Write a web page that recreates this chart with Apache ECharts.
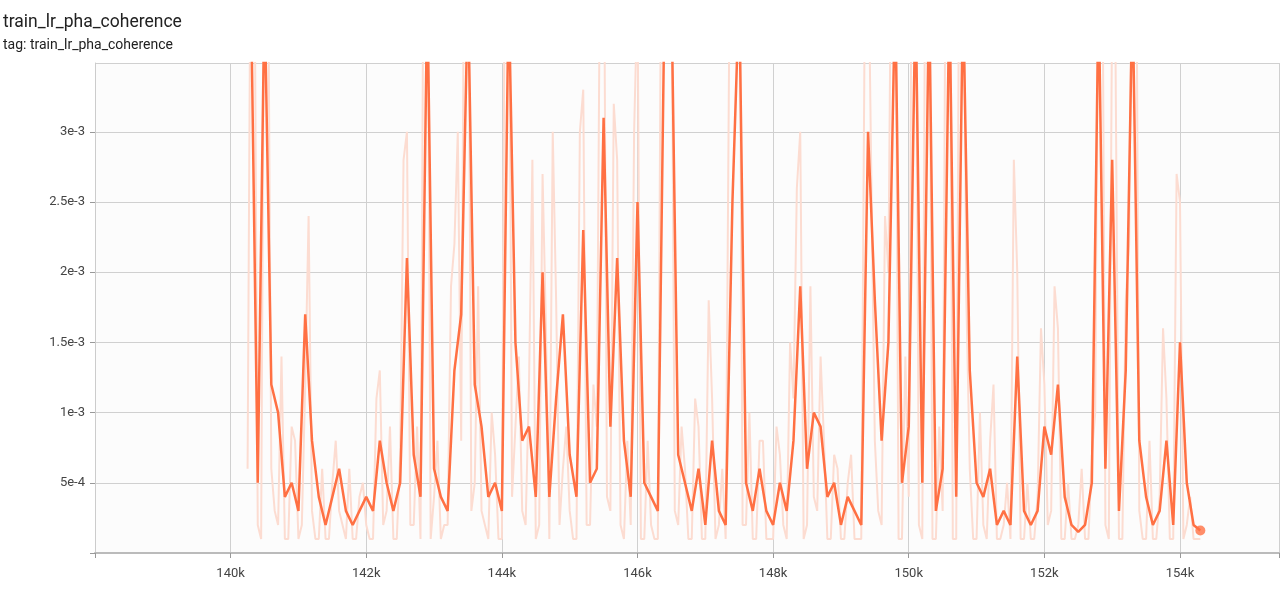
<!DOCTYPE html>
<html>
<head>
<meta charset="utf-8">
<script src="https://cdn.jsdelivr.net/npm/echarts@6/dist/echarts.min.js"></script>
<style>
  html, body { margin: 0; padding: 0; background: #fff; }
  #chart { width: 1282px; height: 592px; }
</style>
</head>
<body>
<div id="chart"></div>
<script>
// values in units of 1e-4, one point per 100 steps
const smoothStart = 140300;
const smoothed = [
  40, 5, 40, 12, 10, 4, 5, 3, 17, 8, 4, 2, 4, 6, 3, 2, 3, 4, 3, 8,
  5, 3, 5, 21, 7, 4, 40, 6, 4, 3, 13, 17, 40, 12, 9, 4, 5, 3, 40, 15,
  8, 9, 4, 20, 4, 11, 17, 7, 4, 23, 5, 6, 31, 9, 21, 8, 4, 25, 5, 4,
  3, 40, 40, 7, 5, 3, 6, 2, 8, 3, 2, 25, 40, 5, 3, 6, 3, 2, 5, 3,
  8, 19, 6, 10, 9, 4, 5, 2, 4, 3, 2, 30, 18, 8, 15, 40, 5, 9, 40, 5,
  40, 3, 6, 40, 4, 40, 13, 5, 4, 6, 2, 3, 2, 14, 3, 2, 3, 9, 7, 12,
  4, 2, 1.5, 2, 5, 40, 6, 28, 3, 13, 40, 8, 4, 2, 3, 8, 2, 15, 5, 2,
  1.6
];
// raw values, two interleaved samplings (offset 50 and 0 steps)
const rawStartA = 140250;
const rawA = [
  6, 45, 1, 45, 3, 14, 1, 8, 2, 24, 1, 6, 1, 8, 2, 6, 1, 5, 1, 11,
  2, 9, 1, 28, 2, 9, 50, 1, 8, 2, 19, 30, 50, 3, 19, 2, 10, 1, 50, 4,
  14, 2, 28, 2, 16, 30, 2, 9, 1, 30, 2, 12, 45, 4, 32, 2, 8, 30, 1, 8,
  1, 45, 50, 3, 9, 1, 11, 1, 18, 1, 6, 35, 50, 2, 10, 1, 8, 1, 9, 2,
  15, 26, 1, 19, 3, 8, 1, 6, 1, 7, 1, 38, 26, 3, 24, 50, 1, 14, 50, 2,
  50, 1, 9, 50, 1, 50, 18, 1, 10, 1, 12, 1, 5, 28, 1, 5, 1, 16, 2, 19,
  1, 5, 1, 6, 1, 10, 50, 1, 35, 1, 22, 50, 1, 8, 1, 16, 1, 27, 1, 4,
  1
];
const rawStartB = 140300;
const rawB = [
  50, 2, 50, 6, 2, 1, 9, 1, 12, 3, 1, 1, 5, 3, 1, 1, 4, 2, 1, 13,
  3, 1, 7, 30, 2, 1, 50, 4, 1, 2, 22, 8, 50, 5, 3, 1, 7, 1, 50, 9,
  3, 12, 1, 27, 1, 18, 6, 3, 1, 33, 2, 9, 50, 3, 28, 1, 2, 40, 1, 2,
  1, 50, 45, 2, 6, 1, 9, 1, 11, 2, 1, 40, 50, 2, 1, 8, 1, 1, 7, 1,
  11, 30, 2, 4, 14, 1, 7, 1, 5, 1, 1, 45, 8, 2, 20, 50, 1, 4, 50, 1,
  50, 1, 3, 50, 1, 50, 6, 1, 2, 8, 1, 2, 1, 20, 1, 1, 4, 12, 3, 16,
  1, 1, 2, 1, 7, 50, 2, 40, 1, 18, 50, 3, 1, 1, 4, 11, 1, 25, 2, 1,
  1
];
const xTicks = [140000, 142000, 144000, 146000, 148000, 150000, 152000, 154000];

const smoothData = smoothed.map((v, i) => [smoothStart + 100 * i, v * 1e-4]);
const rawData = rawA.map((v, i) => [rawStartA + 100 * i, v * 1e-4])
  .concat(rawB.map((v, i) => [rawStartB + 100 * i, v * 1e-4]))
  .sort((a, b) => a[0] - b[0]);
const last = smoothData[smoothData.length - 1];

const chart = echarts.init(document.getElementById('chart'));
chart.setOption({
  animation: false,
  backgroundColor: '#fff',
  title: [
    { text: 'train_lr_pha_coherence', left: -2, top: 9,
      textStyle: { fontFamily: 'Roboto', fontSize: 17.5, fontWeight: 'normal', color: '#212121' } },
    { text: 'tag: train_lr_pha_coherence', left: -2, top: 33,
      textStyle: { fontFamily: 'Roboto', fontSize: 14, fontWeight: 'normal', color: '#212121' } }
  ],
  grid: { left: 95, right: 0, top: 63, bottom: 39, show: true, backgroundColor: '#fcfcfc', borderWidth: 0 },
  xAxis: {
    type: 'value', min: 138000, max: 155460, interval: 2000,
    axisLine: { show: true, lineStyle: { color: '#bbb', width: 2 } },
    axisTick: { show: true, length: 5, lineStyle: { color: '#999' } },
    splitLine: { show: true, lineStyle: { color: '#d0d0d0' } },
    axisLabel: {
      fontFamily: 'Roboto', fontSize: 13, color: '#444', margin: 14,
      formatter: v => xTicks.includes(v) ? (v / 1000) + 'k' : ''
    }
  },
  yAxis: {
    type: 'value', min: 0, max: 0.00349, interval: 0.0005,
    axisLine: { show: true, lineStyle: { color: '#ccc' } },
    axisTick: { show: true, length: 5, lineStyle: { color: '#999' } },
    splitLine: { show: true, lineStyle: { color: '#d0d0d0' } },
    axisLabel: {
      fontFamily: 'Roboto', fontSize: 13, color: '#444', margin: 10,
      showMaxLabel: false,
      formatter: v => {
        const m = Math.round(v * 1e4);
        if (m === 0 || v > 0.00345) return '';
        if (m < 10) return m + 'e-4';
        return (m / 10) + 'e-3';
      }
    }
  },
  series: [
    { type: 'line', data: rawData, symbol: 'none', clip: true,
      lineStyle: { color: '#fcdcd1', width: 2 }, z: 1 },
    { type: 'line', data: smoothData, symbol: 'none', clip: true,
      lineStyle: { color: '#ff7043', width: 2.5 }, z: 2 },
    { type: 'scatter', data: [last], symbolSize: 10,
      itemStyle: { color: '#ff7043' }, z: 3 }
  ]
});
</script>
</body>
</html>
